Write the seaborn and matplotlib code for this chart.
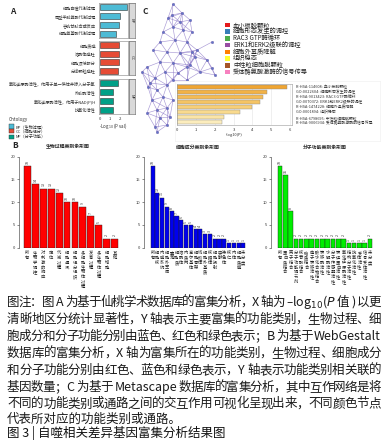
import re
import numpy as np
import pandas as pd
import matplotlib
matplotlib.use("Agg")
import matplotlib.pyplot as plt
import seaborn as sns
from matplotlib.patches import Rectangle
from matplotlib.collections import LineCollection

sns.set_theme(style="white")
plt.rcParams["font.family"] = ["Noto Sans CJK SC", "DejaVu Sans"]
plt.rcParams["axes.unicode_minus"] = False

# ---------------- data ----------------
A_bp_terms = ["细胞自噬代谢过程", "同型半胱氨酸代谢过程", "谷胱甘肽合成反应", "细胞氨基酸代谢过程"]
A_bp_vals = [2.7, 2.0, 1.87, 1.55]
A_cc_terms = ["细胞质膜", "溶酶体膜腔", "细胞顶端部分", "分泌颗粒膜腔"]
A_cc_vals = [1.87, 1.87, 1.87, 1.75]
A_mf_terms = ["氧化还原酶活性，作用于单一供体并掺入分子氧", "外肽酶活性",
              "氧化还原酶活性，作用于NAD(P)H", "抗氧化活性"]
A_mf_vals = [1.75, 1.33, 1.33, 1.33]
A_legend = ["BP（生物过程）", "CC（细胞组分）", "MF（分子功能）"]

B_bp_cats = ["所有", "生物学调控", "对刺激的响应", "定位", "代谢过程", "细胞通讯",
             "细胞组分组织", "多细胞生物体过程", "发育过程", "多生物体过程", "细胞增殖", "其他"]
B_bp_vals = [18, 14, 13, 13, 12, 10, 10, 9, 7, 5, 2, 2]
B_cc_cats = ["所有", "细胞核", "内膜系统", "细胞外空间", "囊泡", "细胞质", "溶酶体", "内质网",
             "高尔基体", "细胞骨架", "线粒体", "细胞外基质", "核糖体", "细胞投射", "突触",
             "染色体", "核仁", "内体", "细胞质膜", "未分类"]
B_cc_vals = [18, 12, 11, 9, 8, 7, 6, 5, 5, 4, 4, 3, 3, 2, 2, 2, 1, 1, 1, 1]
B_mf_cats = ["所有", "蛋白质结合", "离子结合", "分子功能调节剂", "核苷酸结合", "脂质结合",
             "电子转移活性", "碳水化合物结合", "转移酶活性", "水解酶活性", "分子传感器活性",
             "转运蛋白活性", "氧化还原酶活性", "结构分子活性", "抗氧化活性", "受体活性",
             "信号受体活性", "未分类"]
B_mf_vals = [18, 16, 8, 2, 2, 2, 2, 2, 2, 2, 2, 2, 2, 1, 1, 1, 1, 2]
B_titles = ["生物过程类别条形图", "细胞成分类别条形图", "分子功能类别条形图"]

C_terms = ["R-HSA-114608: 血小板脱颗粒", "GO:0022604: 细胞形态发生的调控",
           "R-HSA-9013423: RAC3 GTP酶循环", "GO:0070372: ERK1和ERK2级联的调控",
           "R-HSA-1474228: 细胞外基质降解", "GO:0001894: 组织稳态",
           "R-HSA-6798695: 中性粒细胞脱颗粒", "R-HSA-9006934: 受体酪氨酸激酶的信号传导"]
C_vals = [5.85, 4.8, 4.55, 4.4, 4.0, 3.35, 2.5, 2.4]
C_legend = ["血小板脱颗粒", "细胞形态发生的调控", "RAC3 GTP酶循环", "ERK1和ERK2级联的调控",
            "细胞外基质降解", "组织稳态", "中性粒细胞脱颗粒", "受体酪氨酸激酶的信号传导"]
C_legend_colors = ["#E41A1C", "#377EB8", "#4DAF4A", "#984EA3", "#FF7F00", "#FFFF33", "#A65628", "#F781BF"]
C_bar_colors = ["#F0A531", "#F2B246", "#F4BB55", "#F5C464", "#F7CF78", "#F9DA8E", "#FBE5A7", "#FCEDBD"]

# network node layout
net_x = [173, 172, 168, 182, 180, 190, 173, 163, 183, 192, 160, 175, 187, 212, 197, 153, 167, 180,
         195, 160, 173, 190, 207, 212, 200, 215, 147, 142, 165, 178, 155, 173, 150, 187, 148, 157,
         167, 152, 163, 173, 157, 167, 147, 160, 170, 155, 167, 157, 187, 192]
net_y = [4, 15, 18, 13, 22, 20, 27, 32, 30, 32, 42, 40, 42, 42, 50, 50, 52, 53, 57, 62, 63, 65, 60,
         68, 72, 75, 67, 72, 72, 73, 78, 80, 83, 80, 87, 90, 85, 100, 97, 100, 110, 108, 113, 118,
         117, 127, 125, 132, 67, 52]

caption_lines = [
    "图注：图 A 为基于仙桃学术数据库的富集分析，X 轴为 –log$_{10}$($P$ 值 ) 以更",
    "清晰地区分统计显著性，Y 轴表示主要富集的功能类别，生物过程、细",
    "胞成分和分子功能分别由蓝色、红色和绿色表示；B 为基于 WebGestalt",
    "数据库的富集分析，X 轴为富集所在的功能类别，生物过程、细胞成分",
    "和分子功能分别由红色、蓝色和绿色表示，Y 轴表示功能类别相关联的",
    "基因数量；C 为基于 Metascape 数据库的富集分析，其中互作网络是将",
    "不同的功能类别或通路之间的交互作用可视化呈现出来，不同颜色节点",
    "代表所对应的功能类别或通路。",
]
fig_title = "图 3 | 自噬相关差异基因富集分析结果图"

# ---------------- figure ----------------
W, H = 388, 446
fig = plt.figure(figsize=(W / 100, H / 100), dpi=100)
fig.patch.set_facecolor("white")


def px_axes(x0, y0, x1, y1, **kw):
    return fig.add_axes([x0 / W, 1 - y1 / H, (x1 - x0) / W, (y1 - y0) / H], **kw)


def ftext(x, y, s, **kw):
    return fig.text(x / W, 1 - y / H, s, **kw)


def frect(x, y, w, h, **kw):
    r = Rectangle((x / W, 1 - (y + h) / H), w / W, h / H, transform=fig.transFigure, **kw)
    fig.patches.append(r)
    return r


# ---------- Panel A ----------
npg = ["#4DBBD5", "#E64B35", "#00A087"]
A_sets = [("BP", A_bp_terms, A_bp_vals, npg[0], 3, 38),
          ("CC", A_cc_terms, A_cc_vals, npg[1], 41, 75),
          ("MF", A_mf_terms, A_mf_vals, npg[2], 79, 114)]
for k, (name, terms, vals, col, y0, y1) in enumerate(A_sets):
    ax = px_axes(99, y0, 128, y1)
    sns.barplot(x=vals, y=terms, orient="h", color=col, saturation=1, width=0.7,
                edgecolor="#333333", linewidth=0.4, ax=ax)
    ax.set_xlim(-0.1, 2.8)
    ax.set_xlabel("")
    ax.set_ylabel("")
    ax.tick_params(axis="y", labelsize=3, length=1.2, width=0.3, pad=1, colors="#333333")
    ax.set_xticks([0, 1, 2])
    if k == 2:
        ax.tick_params(axis="x", labelsize=3, length=1.2, width=0.3, pad=1, colors="#333333")
    else:
        ax.tick_params(axis="x", bottom=False, labelbottom=False)
    for sp in ax.spines.values():
        sp.set_color("#9a9a9a")
        sp.set_linewidth(0.5)
    sax = px_axes(129, y0, 135, y1)
    sax.set_facecolor("#D9D9D9")
    sax.set_xticks([])
    sax.set_yticks([])
    for sp in sax.spines.values():
        sp.set_color("#555555")
        sp.set_linewidth(0.4)
    sax.text(0.5, 0.5, name, rotation=-90, ha="center", va="center", fontsize=3,
             transform=sax.transAxes, color="#333333")

ftext(113, 126, "-Log$_{10}$ (P val)", fontsize=3.2, ha="center", va="center", color="#333333")
ftext(9, 120, "Ontology", fontsize=3.2, ha="left", va="center", color="#333333")
for i, (lab, col) in enumerate(zip(A_legend, npg)):
    yy = 126.5 + i * 5
    frect(9, yy - 2, 5, 4, facecolor=col, edgecolor="#333333", linewidth=0.3)
    ftext(16, yy, lab, fontsize=3, ha="left", va="center", color="#333333")
ftext(13, 12, "A", fontsize=6, fontweight="bold", ha="center", va="center")

# ---------- Panel C ----------
axn = px_axes(138, 0, 262, 140)
axn.set_xlim(138, 262)
axn.set_ylim(140, 0)
axn.axis("off")
nx = np.array(net_x, float)
ny = np.array(net_y, float)
segs = []
for i in range(len(nx)):
    for j in range(i + 1, len(nx)):
        if np.hypot(nx[i] - nx[j], ny[i] - ny[j]) < 17.5:
            segs.append([(nx[i], ny[i]), (nx[j], ny[j])])
axn.add_collection(LineCollection(segs, colors="#8C78C8", linewidths=0.45, alpha=0.75))
net_df = pd.DataFrame({"x": net_x, "y": net_y})
sns.scatterplot(data=net_df, x="x", y="y", ax=axn, s=3, color="#5B7BC8",
                edgecolor="#6A4FA8", linewidth=0.3, legend=False, zorder=3)
axn.set_xlabel("")
axn.set_ylabel("")
ftext(145, 12, "C", fontsize=6, fontweight="bold", ha="center", va="center")

for i, (lab, col) in enumerate(zip(C_legend, C_legend_colors)):
    yy = 25 + i * 6.75
    frect(225, yy - 2.3, 4.5, 4.5, facecolor=col, edgecolor="none")
    ftext(233, yy, lab, fontsize=4.5, ha="left", va="center", color="#222222")

# white backing box for the bar chart of panel C (drawn above network, below bars)
axbg = px_axes(175, 81, 380, 141)
axbg.set_zorder(1)
axbg.set_facecolor("white")
axbg.set_xticks([])
axbg.set_yticks([])
for sp in axbg.spines.values():
    sp.set_color("#eeeeee")
    sp.set_linewidth(0.4)

axc = px_axes(177, 84, 292, 125)
axc.set_zorder(2)
sns.barplot(x=C_vals, y=C_terms, hue=C_terms, palette=C_bar_colors, legend=False,
            orient="h", saturation=1, width=0.78, edgecolor="#8a8a8a", linewidth=0.3, ax=axc)
axc.set_xlim(0, 6.1)
axc.set_xticks([0, 1, 2, 3, 4, 5, 6])
axc.grid(axis="x", color="#e3e3e3", linewidth=0.4)
axc.set_axisbelow(True)
axc.yaxis.tick_right()
axc.tick_params(axis="y", labelsize=2.8, length=0, pad=2.9, colors="#333333")
axc.tick_params(axis="x", labelsize=3, length=1.2, width=0.3, pad=1, colors="#333333")
axc.set_xlabel("-log10(P)", fontsize=2.8, labelpad=1, color="#333333")
axc.set_ylabel("")
for sp in axc.spines.values():
    sp.set_color("#9a9a9a")
    sp.set_linewidth(0.4)

# ---------- Panel B ----------
ftext(15, 146, "B", fontsize=6, fontweight="bold", ha="center", va="center")
B_sets = [(B_bp_cats, B_bp_vals, "#FF0000", 19, 23, 119, B_titles[0], 68),
          (B_cc_cats, B_cc_vals, "#0000EE", 144, 150, 246, B_titles[1], 198),
          (B_mf_cats, B_mf_vals, "#00EE00", 271, 277, 373, B_titles[2], 325)]
for cats, vals, col, xaxis, xb0, xb1, title, tx in B_sets:
    ax = px_axes(xb0, 156.7, xb1, 247.7)
    sns.barplot(x=cats, y=vals, color=col, saturation=1, width=0.86,
                edgecolor="#222222", linewidth=0.3, ax=ax)
    n = len(cats)
    ax.set_xlim(-0.55, n - 0.45)
    ax.set_ylim(0, 20)
    ax.set_yticks([0, 5, 10, 15, 20])
    ax.set_xticks([])
    ax.set_xlabel("")
    ax.set_ylabel("")
    for s in ["top", "right", "bottom"]:
        ax.spines[s].set_visible(False)
    ax.spines["left"].set_position(("outward", (xb0 - xaxis) * 0.72))
    ax.spines["left"].set_linewidth(0.4)
    ax.spines["left"].set_color("#333333")
    ax.tick_params(axis="y", labelsize=3, length=1.5, width=0.4, pad=1, colors="#333333", left=True)
    for i, (c, v) in enumerate(zip(cats, vals)):
        ax.text(i, v + 0.5, str(v), rotation=90, ha="center", va="bottom", fontsize=2.6,
                color="#333333", clip_on=False)
        ax.text(i, -0.55, "\n".join(c), ha="center", va="top", fontsize=3.1,
                linespacing=0.95, color="#222222", clip_on=False)
    ftext(tx, 147, title, fontsize=3.5, fontweight="bold", ha="center", va="center")

# ---------- caption ----------
renderer = fig.canvas.get_renderer()
cap_kw = dict(fontsize=9, color="#1a1a1a", va="center", ha="left")


def place_line(s, y, x0=7.0, x1=381.0, **kw):
    toks = re.findall(r"–log\$_\{10\}\$|\$[^$]+\$|[A-Za-z0-9]+|\s+|.", s)
    items = []
    for t in toks:
        if t.isspace():
            items.append((None, 3.2))
            continue
        tx = ftext(0, y, t, **kw)
        w = tx.get_window_extent(renderer).width
        items.append((tx, w))
    total = sum(w for _, w in items)
    gap = (x1 - x0 - total) / (len(items) - 1)
    x = x0
    for tx, w in items:
        if tx is not None:
            tx.set_x(x / W)
        x += w + gap


cap_y = [302.5, 319.5, 336.5, 353.5, 370.5, 387.5, 404, 419]
for k, (line, yy) in enumerate(zip(caption_lines, cap_y)):
    if k < len(caption_lines) - 1:
        place_line(line, yy, **cap_kw)
    else:
        ftext(7, yy, line, **cap_kw)
ftext(7, 433, fig_title, fontsize=9, color="#111111", va="center", ha="left")

fig.savefig("out.png", dpi=100, facecolor="white")
